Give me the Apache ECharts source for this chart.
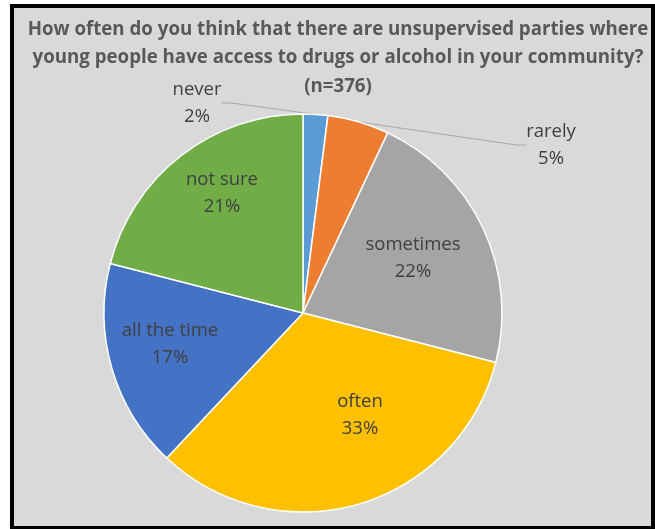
<!DOCTYPE html>
<html>
<head>
<meta charset="utf-8">
<script src="https://cdn.jsdelivr.net/npm/echarts@6/dist/echarts.min.js"></script>
<style>
  html, body { margin: 0; padding: 0; background: #ffffff; }
  #frame { position: absolute; left: 10px; top: 4px; width: 645px; height: 525px; background: #000; }
  #inner { position: absolute; left: 14px; top: 8px; width: 637px; height: 518px; background: #d9d9d9; }
  #chart { position: absolute; left: 0; top: 0; width: 655px; height: 529px; }
</style>
</head>
<body>
<div id="frame"></div>
<div id="inner"></div>
<div id="chart"></div>
<script>
const titleLines = [
  'How often do you think that there are unsupervised parties where',
  'young people have access to drugs or alcohol in your community?',
  '(n=376)'
];
const categories = ['never', 'rarely', 'sometimes', 'often', 'all the time', 'not sure'];
const percents = [2, 5, 22, 33, 17, 21];
const colors = ['#5b9bd5', '#ed7d31', '#a5a5a5', '#ffc000', '#4472c4', '#70ad47'];
const outsideLabel = [true, true, false, false, false, false];

// label anchor positions (centre of the two-line label block)
const labelPos = [[197, 103], [551, 145], [413, 258], [360, 415], [170, 344], [222, 193]];

const chart = echarts.init(document.getElementById('chart'), null, { renderer: 'canvas' });
const data = categories.map((c, i) => ({
  name: c,
  value: percents[i],
  itemStyle: { color: colors[i] },
  label: { position: outsideLabel[i] ? 'outside' : 'inside' },
  labelLine: { show: outsideLabel[i] }
}));

chart.setOption({
  backgroundColor: 'transparent',
  title: {
    text: titleLines.join('\n'),
    left: 333,
    top: 10,
    textAlign: 'center',
    textStyle: {
      fontFamily: 'Open Sans',
      fontWeight: 'bold',
      fontSize: 18.7,
      lineHeight: 28.5,
      color: '#595959'
    }
  },
  series: [{
    type: 'pie',
    center: [303, 313],
    radius: 199,
    startAngle: 90,
    clockwise: true,
    animation: false,
    data: data,
    itemStyle: { borderColor: '#ffffff', borderWidth: 1.5 },
    label: {
      show: true,
      formatter: p => p.name + '\n' + p.value + '%',
      fontFamily: 'Open Sans',
      fontSize: 18.5,
      lineHeight: 27,
      color: '#404040',
      align: 'center'
    },
    labelLine: {
      show: true,
      lineStyle: { color: '#a6a6a6', width: 1 },
      length: 10,
      length2: 10,
      smooth: false
    },
    labelLayout: function (params) {
      const p = labelPos[params.dataIndex];
      return { x: p[0], y: p[1], align: 'center', verticalAlign: 'middle', hideOverlap: false };
    }
  }]
});
</script>
</body>
</html>
